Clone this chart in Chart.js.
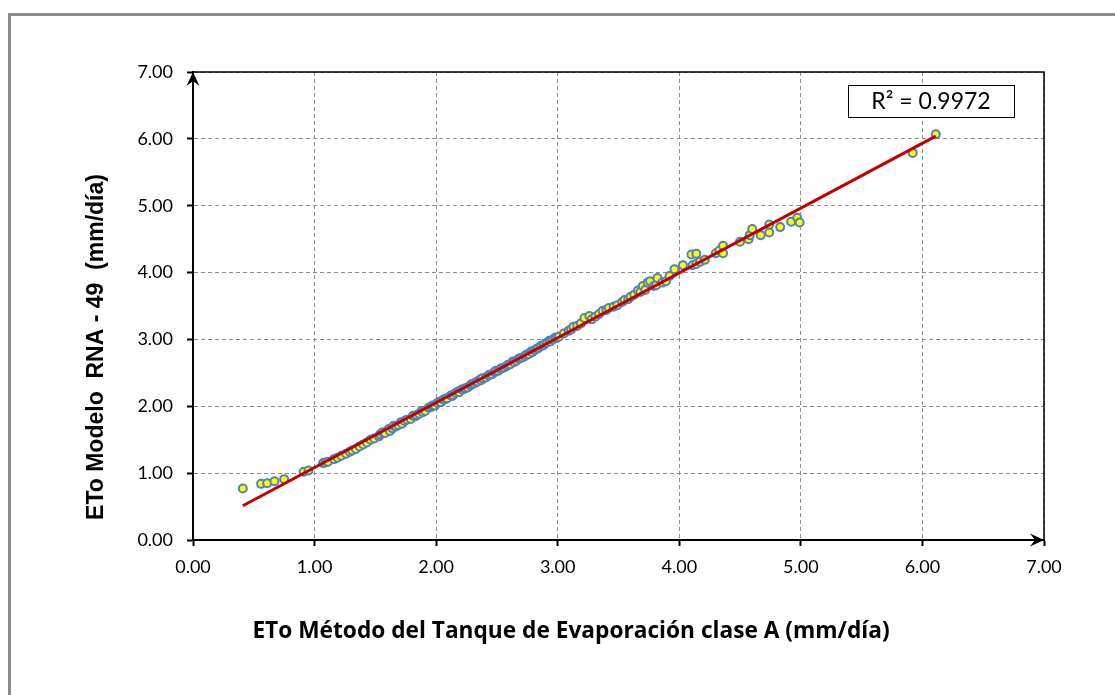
<!DOCTYPE html>
<html>
<head>
<meta charset="utf-8">
<title>ETo Modelo RNA - 49 vs Tanque clase A</title>
<script src="https://cdn.jsdelivr.net/npm/chart.js@4.4.1/dist/chart.umd.min.js"></script>
<style>
  html, body { margin: 0; padding: 0; background: #fff; overflow: hidden; }
  #wrap { position: relative; width: 1115px; height: 695px; }
  #frame { position: absolute; left: 8px; top: 13px; width: 1200px; height: 800px;
           border-left: 3px solid #8c8c8c; border-top: 3px solid #8c8c8c; }
  #etoChart { position: absolute; left: 0; top: 0; }
</style>
</head>
<body>
<div id="wrap">
  <div id="frame"></div>
  <canvas id="etoChart" width="1115" height="695"></canvas>
</div>
<script>
// ETo tanque clase A (x) vs ETo modelo RNA-49 (y), mm/día
const etoTanque = [
  0.41, 0.56, 0.61, 0.67, 0.75, 0.91, 0.95, 1.07, 1.09, 1.11, 1.16, 1.19, 1.22, 1.26, 1.29, 1.31,
  1.34, 1.37, 1.40, 1.43, 1.46, 1.49, 1.53, 1.54, 1.56, 1.58, 1.61, 1.62, 1.64, 1.65, 1.67, 1.69,
  1.71, 1.72, 1.74, 1.76, 1.79, 1.81, 1.83, 1.84, 1.86, 1.88, 1.89, 1.91, 1.94, 1.96, 1.97, 1.99,
  2.01, 2.03, 2.04, 2.06, 2.08, 2.09, 2.12, 2.13, 2.14, 2.16, 2.18, 2.19, 2.21, 2.23, 2.24, 2.26,
  2.28, 2.29, 2.31, 2.33, 2.34, 2.36, 2.37, 2.38, 2.41, 2.43, 2.44, 2.46, 2.48, 2.49, 2.51, 2.53,
  2.54, 2.56, 2.58, 2.59, 2.61, 2.63, 2.64, 2.66, 2.68, 2.69, 2.71, 2.73, 2.74, 2.76, 2.78, 2.79,
  2.81, 2.83, 2.84, 2.86, 2.88, 2.89, 2.91, 2.93, 2.94, 2.96, 2.98, 2.99, 3.01, 3.05, 3.09, 3.11,
  3.13, 3.16, 3.19, 3.22, 3.26, 3.28, 3.31, 3.34, 3.37, 3.40, 3.42, 3.46, 3.49, 3.53, 3.55, 3.58,
  3.60, 3.63, 3.66, 3.68, 3.70, 3.72, 3.74, 3.76, 3.79, 3.81, 3.82, 3.86, 3.89, 3.92, 3.96, 4.03,
  4.10, 4.11, 4.14, 4.14, 4.17, 4.21, 4.30, 4.33, 4.36, 4.36, 4.50, 4.57, 4.58, 4.60, 4.67, 4.74,
  4.74, 4.83, 4.92, 4.97, 4.99, 5.92, 6.11
];
const etoRna = [
  0.77, 0.84, 0.85, 0.88, 0.91, 1.02, 1.04, 1.15, 1.16, 1.17, 1.21, 1.23, 1.26, 1.29, 1.32, 1.34,
  1.36, 1.40, 1.43, 1.46, 1.50, 1.52, 1.55, 1.58, 1.61, 1.60, 1.66, 1.63, 1.67, 1.71, 1.70, 1.72,
  1.76, 1.74, 1.78, 1.80, 1.81, 1.86, 1.85, 1.87, 1.89, 1.93, 1.91, 1.93, 1.98, 1.99, 2.01, 2.01,
  2.05, 2.07, 2.06, 2.10, 2.11, 2.12, 2.16, 2.15, 2.17, 2.20, 2.22, 2.21, 2.25, 2.26, 2.27, 2.28,
  2.31, 2.33, 2.34, 2.36, 2.37, 2.40, 2.39, 2.42, 2.43, 2.46, 2.47, 2.48, 2.51, 2.53, 2.53, 2.56,
  2.57, 2.58, 2.60, 2.62, 2.63, 2.67, 2.66, 2.68, 2.71, 2.72, 2.73, 2.75, 2.77, 2.78, 2.82, 2.81,
  2.84, 2.86, 2.87, 2.90, 2.91, 2.93, 2.95, 2.98, 2.97, 3.00, 3.03, 3.02, 3.04, 3.09, 3.13, 3.15,
  3.19, 3.20, 3.24, 3.32, 3.35, 3.30, 3.34, 3.38, 3.43, 3.44, 3.47, 3.49, 3.51, 3.56, 3.59, 3.60,
  3.64, 3.67, 3.73, 3.71, 3.80, 3.74, 3.85, 3.87, 3.80, 3.81, 3.92, 3.85, 3.87, 3.95, 4.05, 4.11,
  4.27, 4.11, 4.28, 4.13, 4.16, 4.19, 4.29, 4.33, 4.40, 4.29, 4.46, 4.50, 4.56, 4.65, 4.56, 4.60,
  4.72, 4.68, 4.76, 4.82, 4.75, 5.79, 6.07
];
const axisTicks = [0, 1, 2, 3, 4, 5, 6, 7];
const r2Label = 'R\u00b2 = 0.9972';
const xTitle = 'ETo M\u00e9todo del Tanque de Evaporaci\u00f3n clase A (mm/d\u00eda)';
const yTitle = 'ETo Modelo  RNA - 49  (mm/d\u00eda)';

function linearFit(xs, ys) {
  const n = xs.length;
  const mx = xs.reduce((a, b) => a + b, 0) / n;
  const my = ys.reduce((a, b) => a + b, 0) / n;
  let sxy = 0, sxx = 0;
  xs.forEach((x, i) => { sxy += (x - mx) * (ys[i] - my); sxx += (x - mx) * (x - mx); });
  const slope = sxy / sxx;
  return { slope, intercept: my - slope * mx };
}

const fit = linearFit(etoTanque, etoRna);
const xMin = Math.min(...etoTanque);
const xMax = Math.max(...etoTanque);
const trendPoints = [xMin, xMax].map((x) => ({ x, y: fit.intercept + fit.slope * x }));
const points = etoTanque.map((x, i) => ({ x, y: etoRna[i] }));

// frame, arrows, R² box and axis titles
const plotDecor = {
  id: 'plotDecor',
  afterDraw(chart) {
    const { ctx, chartArea: a } = chart;
    ctx.save();
    ctx.strokeStyle = '#000';
    ctx.lineWidth = 1.5;
    ctx.beginPath();
    ctx.moveTo(a.left, a.top);
    ctx.lineTo(a.right, a.top);
    ctx.lineTo(a.right, a.bottom);
    ctx.stroke();

    function arrow(tx, ty, angle) {
      ctx.save();
      ctx.translate(tx, ty);
      ctx.rotate(angle);
      ctx.fillStyle = '#000';
      ctx.beginPath();
      ctx.moveTo(0, 0);
      ctx.lineTo(-14, -6.5);
      ctx.lineTo(-9, 0);
      ctx.lineTo(-14, 6.5);
      ctx.closePath();
      ctx.fill();
      ctx.restore();
    }
    arrow(a.left, a.top, -Math.PI / 2);
    arrow(a.right, a.bottom, 0);

    // R² box
    const bx = a.right - 196, by = a.top + 13, bw = 166, bh = 32;
    ctx.fillStyle = '#fff';
    ctx.fillRect(bx, by, bw, bh);
    ctx.lineWidth = 1;
    ctx.strokeRect(bx + 0.5, by + 0.5, bw, bh);
    ctx.fillStyle = '#000';
    ctx.font = '23px Lato';
    ctx.textAlign = 'center';
    ctx.textBaseline = 'middle';
    ctx.fillText(r2Label, bx + bw / 2, by + bh / 2 + 1);

    ctx.font = 'bold 22.7px "Open Sans"';
    ctx.fillText(xTitle, 571, 632);

    ctx.translate(97, 347);
    ctx.rotate(-Math.PI / 2);
    ctx.font = 'bold 23px "Liberation Sans"';
    ctx.fillText(yTitle, 0, 0);
    ctx.restore();
  }
};

function axisOptions(fitSize, pad) {
  return {
    type: 'linear',
    min: 0,
    max: 7,
    afterBuildTicks: (scale) => { scale.ticks = axisTicks.map((v) => ({ value: v })); },
    afterFit: fitSize,
    ticks: {
      color: '#000',
      font: { family: 'Lato', size: 18 },
      padding: pad,
      callback: (v) => Number(v).toFixed(2)
    },
    grid: {
      color: '#8c8c8c',
      lineWidth: 1,
      drawTicks: true,
      tickLength: 6,
      tickColor: '#000',
      tickWidth: 2
    },
    border: { display: true, color: '#000', width: 2, dash: [4, 3] }
  };
}

new Chart(document.getElementById('etoChart'), {
  type: 'scatter',
  data: {
    datasets: [
      {
        label: 'Lineal',
        data: trendPoints,
        showLine: true,
        borderColor: '#c00000',
        borderWidth: 3,
        pointRadius: 0,
        order: 0
      },
      {
        label: 'ETo RNA-49',
        data: points,
        backgroundColor: '#ffff00',
        borderColor: '#4f81bd',
        borderWidth: 2,
        pointRadius: 4,
        order: 1
      }
    ]
  },
  options: {
    responsive: false,
    devicePixelRatio: 1,
    animation: false,
    layout: { padding: { top: 72, right: 71, left: 0, bottom: 0 } },
    plugins: { legend: { display: false }, tooltip: { enabled: false } },
    scales: {
      x: Object.assign(axisOptions((s) => { s.height = 155; }, 10), { position: 'bottom' }),
      y: Object.assign(axisOptions((s) => { s.width = 193; }, 14), { position: 'left' })
    }
  },
  plugins: [plotDecor]
});
</script>
</body>
</html>
